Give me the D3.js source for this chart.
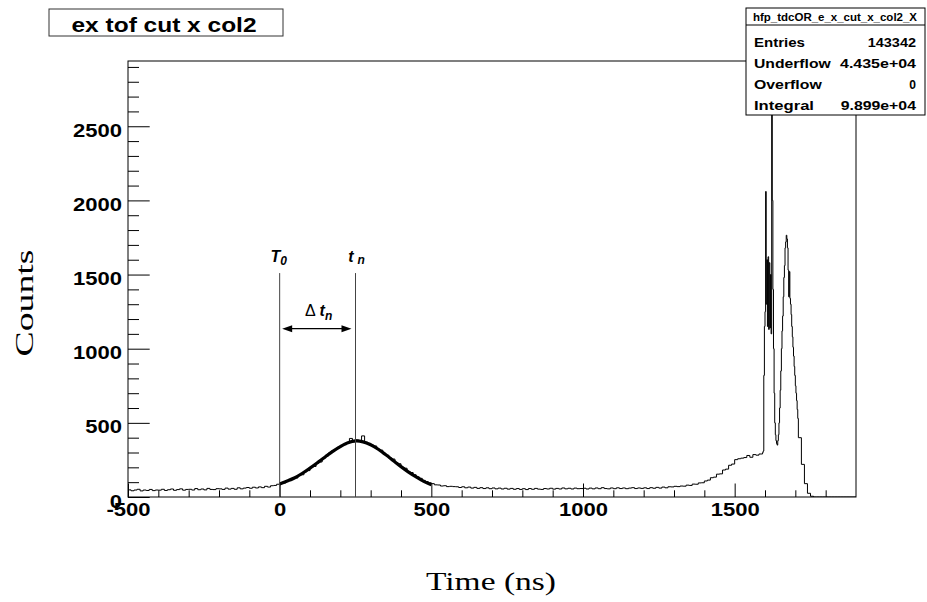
<!DOCTYPE html>
<html lang="en">
<head>
<meta charset="UTF-8">
<title>ex tof cut x col2</title>
<script src="https://d3js.org/d3.v7.min.js"></script>
<style>
  body { margin: 0; background: #fff; }
  svg { display: block; }
  .axis text { font-family: 'Liberation Sans', Arial, sans-serif; font-weight: bold; font-size: 19px; fill: #000; }
  .axis line { stroke: #000; stroke-width: 1; }
  .stats text { font-family: 'Liberation Sans', Arial, sans-serif; font-weight: bold; }
  .axis-title { font-family: 'Liberation Serif', 'DejaVu Serif', serif; font-size: 26px; }
  .note { font-family: 'Liberation Sans', Arial, sans-serif; font-weight: bold; font-style: italic; font-size: 16px; }
</style>
</head>
<body>
<svg width="927" height="602"></svg>
<script>
// histogram contents
// 10 ns bins from -500 to 1590
const countsLow = [
  48, 42, 47, 52, 41, 47, 44, 51, 43, 47,
  46, 52, 44, 49, 54, 45, 50, 55, 46, 51,
  52, 47, 57, 49, 54, 48, 58, 51, 50, 56,
  55, 51, 60, 53, 58, 52, 62, 55, 60, 64,
  59, 66, 61, 68, 63, 72, 67, 76, 78, 86,
  92, 94, 108, 110, 125, 128, 146, 150, 170, 178,
  200, 206, 230, 236, 262, 275, 296, 310, 320, 335,
  348, 352, 366, 395, 372, 385, 380, 412, 370, 362,
  350, 344, 322, 316, 290, 282, 262, 256, 232, 224,
  200, 194, 172, 165, 150, 136, 126, 112, 104, 96,
  90, 82, 81, 74, 76, 70, 72, 70, 69, 64,
  69, 62, 67, 60, 65, 58, 63, 57, 62, 56,
  61, 55, 60, 54, 59, 53, 58, 52, 57, 51,
  56, 50, 57, 52, 58, 53, 51, 57, 54, 59,
  53, 58, 54, 61, 55, 59, 54, 60, 56, 57,
  59, 54, 60, 55, 61, 56, 63, 57, 55, 61,
  56, 62, 57, 61, 56, 60, 63, 57, 61, 58,
  62, 57, 63, 59, 65, 60, 67, 62, 69, 68,
  72, 70, 74, 73, 80, 78, 87, 86, 95, 96,
  108, 114, 130, 134, 154, 156, 182, 188, 214, 222,
  252, 258, 262, 266, 280, 268, 286, 282, 290
];
// 2 ns bins from 1590 to 1710 (the two peaks)
const countsPeak = [
  290, 300, 310, 820, 1150, 1250, 2060, 1300, 1600, 1150,
  1620, 1130, 1580, 1140, 1500, 1100, 2800, 2000, 1400, 1000,
  700, 500, 420, 380, 360, 350, 380, 420, 500, 600,
  720, 850, 1000, 1120, 1220, 1350, 1480, 1560, 1680, 1720,
  1765, 1740, 1680, 1530, 1350, 1520, 1340, 1300, 1230, 1150,
  1080, 1010, 950, 880, 820, 750, 700, 650, 590, 530
];
// 10 ns bins from 1710 to 1900
const countsHigh = [400, 220, 90, 25, 5, 0, 0, 0, 0, 0, 0, 0, 0, 0, 0, 0, 0, 0, 0];

// gaussian fit curve
const fitTime   = [0, 25, 50, 75, 100, 125, 150, 175, 200, 225, 250, 275, 300, 325, 350, 375, 400, 425, 450, 475, 500];
const fitCounts = [88, 108, 130, 160, 195, 232, 270, 308, 340, 365, 378, 372, 352, 322, 285, 245, 205, 168, 135, 105, 82];

const xMajorTicks = [-500, 0, 500, 1000, 1500];
const yMajorTicks = [0, 500, 1000, 1500, 2000, 2500];

const title = "ex tof cut x col2";
const histName = "hfp_tdcOR_e_x_cut_x_col2_X";
const statsLabels = ["Entries", "Underflow", "Overflow", "Integral"];
const statsValues = ["143342", "4.435e+04", "0", "9.899e+04"];

const markT0 = 0, markTn = 250, markTop = 1510, arrowLevel = 1135;

const svg = d3.select("svg");
const frame = { left: 128, top: 61, right: 856, bottom: 497 };

const x = d3.scaleLinear().domain([-500, 1900]).range([frame.left, frame.right]);
const y = d3.scaleLinear().domain([0, 2940]).range([frame.bottom, frame.top]);

function binsOf(start, width, values) {
  return values.map((v, i) => ({ x0: start + i * width, x1: start + (i + 1) * width, n: v }));
}
const bins = [
  ...binsOf(-500, 10, countsLow),
  ...binsOf(1590, 2, countsPeak),
  ...binsOf(1710, 10, countsHigh)
];

// stretch text to the wide look of the original
function widen(sel, k) {
  sel.each(function () {
    const w = this.getComputedTextLength();
    d3.select(this).attr("textLength", w * k).attr("lengthAdjust", "spacingAndGlyphs");
  });
}

svg.append("defs").append("clipPath").attr("id", "frame-clip")
  .append("rect")
  .attr("x", frame.left).attr("y", frame.top)
  .attr("width", frame.right - frame.left).attr("height", frame.bottom - frame.top);

// histogram
const steps = bins.flatMap(b => [[b.x0, b.n], [b.x1, b.n]]);
svg.append("path")
  .attr("clip-path", "url(#frame-clip)")
  .attr("d", d3.line().x(d => x(d[0])).y(d => y(d[1]))(steps))
  .attr("fill", "none")
  .attr("stroke", "#000")
  .attr("stroke-width", 1);

// fit
svg.append("path")
  .attr("d", d3.line().x((d, i) => x(fitTime[i])).y(d => y(d)).curve(d3.curveCatmullRom)(fitCounts))
  .attr("fill", "none")
  .attr("stroke", "#000")
  .attr("stroke-width", 3.2);

// axes (ticks point inward like ROOT)
const yAxis = svg.append("g").attr("class", "axis")
  .attr("transform", `translate(${frame.left},0)`)
  .call(d3.axisLeft(y).tickValues(yMajorTicks).tickSize(-21.7).tickSizeOuter(0)
    .tickPadding(6).tickFormat(d => String(d)));
svg.append("g").attr("class", "axis")
  .attr("transform", `translate(${frame.left},0)`)
  .call(d3.axisLeft(y).tickValues(d3.range(0, 2901, 100).filter(v => v % 500))
    .tickSize(-11).tickSizeOuter(0).tickFormat(""));

const xAxis = svg.append("g").attr("class", "axis")
  .attr("transform", `translate(0,${frame.bottom})`)
  .call(d3.axisBottom(x).tickValues(xMajorTicks).tickSize(-13.5).tickSizeOuter(0)
    .tickPadding(6).tickFormat(d => String(d)));
svg.append("g").attr("class", "axis")
  .attr("transform", `translate(0,${frame.bottom})`)
  .call(d3.axisBottom(x).tickValues(d3.range(-500, 1900, 100).filter(v => v % 500))
    .tickSize(-6.7).tickSizeOuter(0).tickFormat(""));

svg.selectAll(".axis .domain").remove();
yAxis.selectAll("text").attr("dy", "0.53em").call(widen, 1.16);
xAxis.selectAll("text").attr("dy", "0.71em").call(widen, 1.16);

svg.append("rect")
  .attr("x", frame.left).attr("y", frame.top)
  .attr("width", frame.right - frame.left).attr("height", frame.bottom - frame.top)
  .attr("fill", "none").attr("stroke", "#000").attr("stroke-width", 1);

// axis titles
svg.append("text").attr("class", "axis-title")
  .attr("x", 491).attr("y", 590).attr("text-anchor", "middle")
  .attr("textLength", 130).attr("lengthAdjust", "spacingAndGlyphs")
  .text("Time (ns)");
svg.append("text").attr("class", "axis-title")
  .attr("transform", "translate(33,303) rotate(-90)").attr("text-anchor", "middle")
  .attr("textLength", 107).attr("lengthAdjust", "spacingAndGlyphs")
  .text("Counts");

// T0, tn markers
const note = svg.append("g");
[markT0, markTn].forEach(t => {
  note.append("line")
    .attr("x1", x(t)).attr("x2", x(t))
    .attr("y1", y(markTop)).attr("y2", frame.bottom)
    .attr("stroke", "#444").attr("stroke-width", 1);
});
const t0 = note.append("text").attr("class", "note")
  .attr("x", x(markT0) - 1).attr("y", y(markTop) - 11).attr("text-anchor", "middle");
t0.append("tspan").text("T");
t0.append("tspan").attr("font-size", 12).attr("dy", 3).text("0");

const tn = note.append("text").attr("class", "note")
  .attr("x", x(markTn) + 1).attr("y", y(markTop) - 11).attr("text-anchor", "middle");
tn.append("tspan").text("t");
tn.append("tspan").attr("font-size", 12).attr("dx", 4).attr("dy", 2).text("n");

const ay = y(arrowLevel);
const ax1 = x(markT0) + 2.5, ax2 = x(markTn) - 4;
note.append("line")
  .attr("x1", ax1 + 6).attr("x2", ax2 - 6).attr("y1", ay).attr("y2", ay)
  .attr("stroke", "#000").attr("stroke-width", 1.2);
note.append("path")
  .attr("d", `M${ax1},${ay}L${ax1 + 10},${ay - 3.5}L${ax1 + 10},${ay + 3.5}Z` +
             `M${ax2},${ay}L${ax2 - 10},${ay - 3.5}L${ax2 - 10},${ay + 3.5}Z`)
  .attr("fill", "#000");

const dt = note.append("text").attr("class", "note")
  .attr("x", (x(markT0) + x(markTn)) / 2 + 1).attr("y", ay - 13).attr("text-anchor", "middle");
dt.append("tspan").attr("font-style", "normal").attr("font-weight", "normal").text("\u0394");
dt.append("tspan").attr("dx", 4).text("t");
dt.append("tspan").attr("font-size", 12).attr("dy", 4).text("n");

// title box
svg.append("rect")
  .attr("x", 49).attr("y", 9).attr("width", 234).attr("height", 27)
  .attr("fill", "#fff").attr("stroke", "#333").attr("stroke-width", 1);
svg.append("text")
  .attr("x", 164).attr("y", 32).attr("text-anchor", "middle")
  .attr("font-family", "'Liberation Sans', Arial, sans-serif")
  .attr("font-weight", "bold").attr("font-size", 20)
  .attr("textLength", 185).attr("lengthAdjust", "spacingAndGlyphs")
  .text(title);

// stats box
const stats = svg.append("g").attr("class", "stats");
stats.append("rect")
  .attr("x", 746).attr("y", 8).attr("width", 179).attr("height", 107)
  .attr("fill", "#fff").attr("stroke", "#000").attr("stroke-width", 1);
stats.append("line")
  .attr("x1", 746).attr("x2", 925).attr("y1", 25).attr("y2", 25)
  .attr("stroke", "#000").attr("stroke-width", 1);
stats.append("text")
  .attr("x", 835).attr("y", 21).attr("text-anchor", "middle").attr("font-size", 10)
  .attr("textLength", 164).attr("lengthAdjust", "spacingAndGlyphs")
  .text(histName);

const labelWidths = [51, 76.7, 67.7, 60];
const valueWidths = [48.3, 76, 6.7, 75.3];
statsLabels.forEach((s, i) => {
  stats.append("text")
    .attr("x", 754).attr("y", 47 + i * 21).attr("font-size", 12.5)
    .attr("textLength", labelWidths[i]).attr("lengthAdjust", "spacingAndGlyphs")
    .text(s);
  stats.append("text")
    .attr("x", 916).attr("y", 47 + i * 21).attr("font-size", 12.5).attr("text-anchor", "end")
    .attr("textLength", valueWidths[i]).attr("lengthAdjust", "spacingAndGlyphs")
    .text(statsValues[i]);
});
</script>
</body>
</html>
